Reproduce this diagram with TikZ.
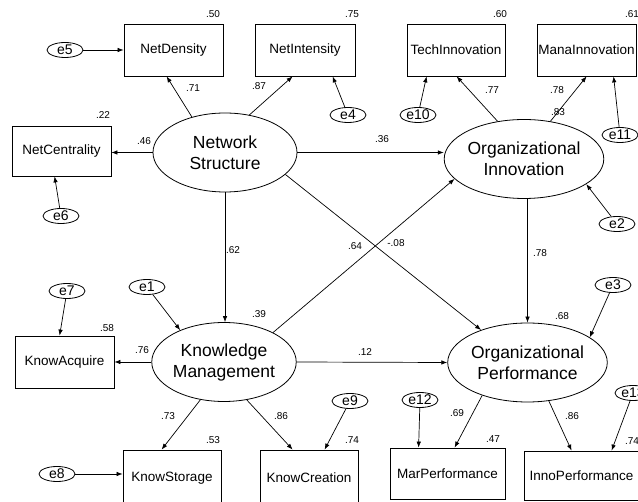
\documentclass[tikz,border=0pt]{standalone}
\usepackage{fontspec}
\setmainfont{Liberation Sans}
\usetikzlibrary{shapes.geometric,arrows.meta,calc}
\begin{document}
\begin{tikzpicture}[x=1pt,y=-1pt,
  lat/.style={draw,ellipse,minimum width=144pt,minimum height=79pt,inner sep=0pt,align=center,font=\fontsize{17.5}{21}\selectfont},
  obs/.style={draw,rectangle,inner sep=0pt,font=\fontsize{13.5}{16}\selectfont},
  err/.style={draw,ellipse,minimum width=36pt,minimum height=15pt,inner sep=0pt,font=\fontsize{14}{16}\selectfont},
  num/.style={inner sep=0pt,font=\fontsize{10}{12}\selectfont},
  arr/.style={-{Latex[length=6pt,width=4.5pt]},line width=0.7pt},
  line width=0.8pt]
\useasboundingbox (0,0) rectangle (638,502);
\clip (0,0) rectangle (638,502);
\fill[white] (0,0) rectangle (638,502);

% latent variables
\node[lat] (ns) at (225,152.5) {Network\\Structure};
\node[lat] (oi) at (524,159) {Organizational\\Innovation};
\node[lat] (km) at (224,362) {Knowledge\\Management};
\node[lat] (op) at (527.5,362.5) {Organizational\\Performance};

% observed variables
\node[obs,minimum width=99pt,minimum height=52pt] (nd) at (173.5,50) {NetDensity};
\node[obs,minimum width=100pt,minimum height=52pt] (ni) at (305,50) {NetIntensity};
\node[obs,minimum width=98pt,minimum height=52pt] (ti) at (456,50) {TechInnovation};
\node[obs,minimum width=99pt,minimum height=52pt] (mi) at (586.5,50) {ManaInnovation};
\node[obs,minimum width=99pt,minimum height=50pt] (nc) at (61.5,151) {NetCentrality};
\node[obs,minimum width=99pt,minimum height=52pt] (ka) at (64.5,362) {KnowAcquire};
\node[obs,minimum width=98pt,minimum height=56pt] (ks) at (172,478) {KnowStorage};
\node[obs,minimum width=98pt,minimum height=56pt] (kc) at (309,478) {KnowCreation};
\node[obs,minimum width=115pt,minimum height=51pt] (mp) at (447.5,473.5) {MarPerformance};
\node[obs,minimum width=115pt,minimum height=49pt] (ip) at (581.5,475.5) {InnoPerformance};

% error terms
\node[err] (e5) at (65,50) {e5};
\node[err] (e4) at (348,115) {e4};
\node[err] (e10) at (418,115) {e10};
\node[err] (e11) at (620,135) {e11};
\node[err] (e6) at (61,216) {e6};
\node[err] (e2) at (617,224) {e2};
\node[err] (e7) at (67,291) {e7};
\node[err] (e1) at (147,287) {e1};
\node[err] (e3) at (613,285) {e3};
\node[err] (e9) at (350,401) {e9};
\node[err] (e12) at (420,400) {e12};
\node[err] (e13) at (633,393) {e13};
\node[err] (e8) at (57,474) {e8};

% structural paths
\draw[arr] (ns.east) -- (ns.east -| oi.west);
\draw[arr] (ns.south) -- (ns.south |- km.north);
\draw[arr] (ns.-20) -- (op.145);
\draw[arr] (km.31) -- (oi.196);
\draw[arr] (km.east) -- (op.west);
\draw[arr] (op.north |- oi.south) -- (op.north);

% measurement paths
\draw[arr] (ns.133) -- ($(nd.south west)+(43,0)$);
\draw[arr] (ns.57) -- ($(ni.south west)+(38,0)$);
\draw[arr] (ns.west) -- (ns.west -| nc.east);
\draw[arr] (oi.125) -- ($(ti.south west)+(50,0)$);
\draw[arr] (oi.55) -- ($(mi.south west)+(50,0)$);
\draw[arr] (km.west) -- (km.west -| ka.east);
\draw[arr] (km.238) -- ($(ks.north west)+(39,0)$);
\draw[arr] (km.301) -- ($(kc.north west)+(33,0)$);
\draw[arr] (op.216) -- ($(mp.north west)+(65,0)$);
\draw[arr] (op.299) -- ($(ip.north west)+(48,0)$);

% error paths
\draw[arr] (e5.east) -- (e5.east -| nd.west);
\draw[arr] (e4) -- ($(ni.south west)+(78,0)$);
\draw[arr] (e10) -- ($(ti.south west)+(20,0)$);
\draw[arr] (e11) -- ($(mi.south west)+(77,0)$);
\draw[arr] (e6) -- ($(nc.south west)+(43,0)$);
\draw[arr] (e2) -- (oi.-22);
\draw[arr] (e7) -- ($(ka.north west)+(45,0)$);
\draw[arr] (e1) -- (km.144);
\draw[arr] (e3) -- (op.22);
\draw[arr] (e9) -- ($(kc.north west)+(65,0)$);
\draw[arr] (e12) -- ($(mp.north west)+(29,0)$);
\draw[arr] (e13) -- ($(ip.north west)+(88,0)$);
\draw[arr] (e8.east) -- (e8.east -| ks.west);

% coefficients
\node[num] (n1) at (213,14) {.50};
\node[num] (n2) at (352,14) {.75};
\node[num] (n3) at (500,14) {.60};
\node[num] (n4) at (632,14) {.61};
\node[num] (n5) at (193,88) {.71};
\node[num] (n6) at (259,86) {.87};
\node[num] (n7) at (144,141) {.46};
\node[num] (n8) at (103,115) {.22};
\node[num] (n9) at (382,139) {.36};
\node[num] (n10) at (492,90) {.77};
\node[num] (n11) at (557,90) {.78};
\node[num] (n12) at (558,112) {.83};
\node[num] (n13) at (233,250) {.62};
\node[num] (n14) at (355,246) {.64};
\node[num] (n15) at (396,243) {-.08};
\node[num] (n16) at (540,253) {.78};
\node[num] (n17) at (259,314) {.39};
\node[num] (n18) at (107,328) {.58};
\node[num] (n19) at (562,316) {.68};
\node[num] (n20) at (142,350) {.76};
\node[num] (n21) at (365,352) {.12};
\node[num] (n22) at (168,416) {.73};
\node[num] (n23) at (281,416) {.86};
\node[num] (n24) at (213,440) {.53};
\node[num] (n25) at (352,440) {.74};
\node[num] (n26) at (457,413) {.69};
\node[num] (n27) at (493,439) {.47};
\node[num] (n28) at (572,416) {.86};
\node[num] (n29) at (632,441) {.74};
\end{tikzpicture}
\end{document}
